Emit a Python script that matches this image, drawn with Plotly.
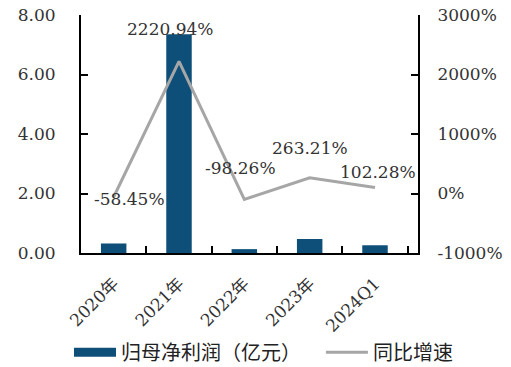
import plotly.graph_objects as go

# 数据
periods = ["2020年", "2021年", "2022年", "2023年", "2024Q1"]
net_profit = [0.32, 7.35, 0.13, 0.47, 0.26]          # 归母净利润（亿元）
yoy_growth = [-58.45, 2220.94, -98.26, 263.21, 102.28]  # 同比增速（%）
growth_ticks = [-1000, 0, 1000, 2000, 3000]

BAR_COLOR = "#0D4F79"
LINE_COLOR = "#A6A6A6"
FONT = "DejaVu Serif, Noto Sans CJK SC"

# 增速标签相对数据点的偏移（像素）
label_offsets = [(16, -2), (-9, 32), (-4, 31), (0, 30), (3, 15)]

fig = go.Figure()
fig.add_trace(go.Bar(
    x=periods, y=net_profit, name="归母净利润（亿元）",
    marker=dict(color=BAR_COLOR, line=dict(width=0)),
    yaxis="y", showlegend=False, legendgroup="profit",
))
# 图例中柱形用宽色块表示
fig.add_trace(go.Scatter(
    x=[None], y=[None], name="归母净利润（亿元）", mode="lines",
    line=dict(color=BAR_COLOR, width=9), legendgroup="profit",
    legend="legend",
))
fig.add_trace(go.Scatter(
    x=periods, y=yoy_growth, name="同比增速", mode="lines",
    line=dict(color=LINE_COLOR, width=3),
    yaxis="y2", legend="legend2",
))

for p, v, (dx, dy) in zip(periods, yoy_growth, label_offsets):
    fig.add_annotation(
        x=p, y=v, xref="x", yref="y2", text=f"{v:.2f}%",
        showarrow=False, xshift=dx, yshift=dy,
        font=dict(family=FONT, size=17, color="#333333"),
    )

legend_style = dict(
    orientation="h", xref="container", yref="container",
    xanchor="left", yanchor="middle", y=0.04,
    bgcolor="rgba(0,0,0,0)",
    font=dict(family=FONT, size=20, color="#222222"),
    itemwidth=42,
)

fig.update_layout(
    width=511, height=367,
    margin=dict(l=81, r=93, t=15, b=114, autoexpand=False),
    paper_bgcolor="white", plot_bgcolor="white",
    bargap=0.61,
    font=dict(family=FONT, size=17, color="#333333"),
    showlegend=True,
    legend=dict(legend_style, x=0.135),
    legend2=dict(legend_style, x=0.628),
    xaxis=dict(
        type="category", showline=True, linecolor="black", linewidth=2,
        ticks="inside", tickson="boundaries", ticklen=7, tickwidth=2,
        tickcolor="black", tickangle=-45, ticklabelstandoff=12,
        showgrid=False, zeroline=False,
        tickfont=dict(family=FONT, size=17, color="#333333"),
    ),
    yaxis=dict(
        range=[0, 8], dtick=2, tickformat=".2f",
        showline=True, linecolor="black", linewidth=2,
        ticks="inside", ticklen=7, tickwidth=2, tickcolor="black",
        ticklabelstandoff=20,
        showgrid=False, zeroline=False,
        tickfont=dict(family=FONT, size=17, color="#333333"),
    ),
    yaxis2=dict(
        range=[-1000, 3000],
        tickvals=growth_ticks, ticktext=[f"{t}%" for t in growth_ticks],
        overlaying="y", side="right",
        showline=True, linecolor="black", linewidth=2,
        ticks="inside", ticklen=7, tickwidth=2, tickcolor="black",
        ticklabelstandoff=14,
        showgrid=False, zeroline=False,
        tickfont=dict(family=FONT, size=17, color="#333333"),
    ),
)

fig.write_html("out.html")
